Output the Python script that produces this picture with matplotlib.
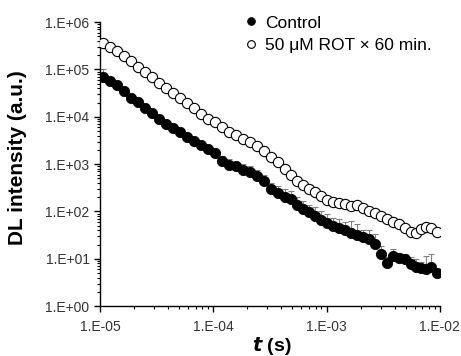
import math
import matplotlib
matplotlib.use("Agg")
import matplotlib.pyplot as plt
from matplotlib.ticker import LogLocator, FuncFormatter, NullFormatter

plt.rcParams["font.family"] = ["Liberation Sans", "DejaVu Sans"]

# time points (s), shared by both series
t = [1.06e-5, 1.23e-5, 1.41e-5, 1.63e-5, 1.88e-5, 2.16e-5, 2.50e-5, 2.88e-5,
     3.32e-5, 3.82e-5, 4.41e-5, 5.08e-5, 5.86e-5, 6.75e-5, 7.78e-5, 8.97e-5,
     1.03e-4, 1.19e-4, 1.37e-4, 1.58e-4, 1.83e-4, 2.11e-4, 2.43e-4, 2.80e-4,
     3.23e-4, 3.72e-4, 4.29e-4, 4.84e-4, 5.47e-4, 6.18e-4, 6.98e-4, 7.89e-4,
     8.91e-4, 1.01e-3, 1.14e-3, 1.28e-3, 1.45e-3, 1.64e-3, 1.85e-3, 2.09e-3,
     2.36e-3, 2.67e-3, 3.02e-3, 3.41e-3, 3.85e-3, 4.35e-3, 4.91e-3, 5.55e-3,
     6.14e-3, 6.80e-3, 7.53e-3, 8.34e-3, 9.41e-3]

# control (filled circles)
control = [6.89e4, 5.68e4, 4.67e4, 3.49e4, 2.48e4, 2.04e4, 1.52e4, 1.20e4,
           8930, 7000, 5770, 4750, 3720, 3060, 2520, 2080,
           1710, 1160, 953, 908, 747, 678, 558, 438,
           297, 244, 201, 182, 136, 112, 97, 80,
           66, 57, 49, 44, 40, 35, 32, 29,
           26, 21, 12.6, 8.1, 11.4, 10.3, 9.8, 7.7,
           6.7, 6.4, 6.2, 6.7, 5.0]
control_err = [34000, 5700, 4700, 3500, 2500, 2000, 1500, 1200,
               900, 700, 600, 500, 400, 300, 300, 300,
               300, 300, 300, 200, 250, 250, 200, 150,
               100, 100, 90, 90, 70, 55, 40, 45,
               35, 30, 25, 25, 20, 28, 22, 12,
               15, 12, 6, 3, 5, 3, 3, 3,
               3, 2, 5.5, 6, 1]

# 50 uM rotenone x 60 min (open circles)
rot = [3.60e5, 2.97e5, 2.44e5, 1.91e5, 1.50e5, 1.12e5, 8.80e4, 6.89e4,
       5.15e4, 4.04e4, 3.16e4, 2.48e4, 1.95e4, 1.52e4, 1.14e4, 8930,
       7720, 6050, 4750, 4100, 3380, 2920, 2400, 1880,
       1410, 1100, 785, 586, 438, 360, 297, 256,
       211, 174, 157, 151, 143, 130, 136, 118,
       102, 92, 80, 69, 60, 54, 44, 37,
       35, 42, 47, 44, 37]
rot_err = [v * 0.1 for v in rot[:49]] + [8, 10, 10, 8]

fig = plt.figure(figsize=(4.61, 3.56), dpi=100)
ax = fig.add_axes([0.217, 0.140, 0.737, 0.798])

ax.errorbar(t, control, yerr=[[0] * len(control), control_err], fmt="none",
            ecolor="#808080", elinewidth=0.8, capsize=2.5, capthick=0.8, zorder=1)
ax.errorbar(t, rot, yerr=[[0] * len(rot), rot_err], fmt="none",
            ecolor="#808080", elinewidth=0.8, capsize=2.5, capthick=0.8, zorder=1)

ax.plot(t, control, "o", color="black", markersize=7.4, markeredgewidth=0.6,
        label="Control", zorder=3)
ax.plot(t, rot, "o", markerfacecolor="white", markeredgecolor="black",
        markersize=7.4, markeredgewidth=0.8,
        label="50 \u03bcM ROT \u00d7 60 min.", zorder=3)

ax.set_xscale("log")
ax.set_yscale("log")
ax.set_xlim(1e-5, 1e-2)
ax.set_ylim(1, 1e6)

ax.xaxis.set_major_locator(LogLocator(base=10, numticks=10))
ax.yaxis.set_major_locator(LogLocator(base=10, numticks=10))
ax.xaxis.set_minor_locator(LogLocator(base=10, subs=range(2, 10), numticks=20))
ax.yaxis.set_minor_locator(LogLocator(base=10, subs=range(2, 10), numticks=20))
ax.xaxis.set_minor_formatter(NullFormatter())
ax.yaxis.set_minor_formatter(NullFormatter())


def sci_label(v, pos):
    e = int(round(math.log10(v)))
    sign = "+" if e >= 0 else "-"
    return "1.E%s%02d" % (sign, abs(e))


ax.xaxis.set_major_formatter(FuncFormatter(sci_label))
ax.yaxis.set_major_formatter(FuncFormatter(sci_label))

for s in ["top", "right"]:
    ax.spines[s].set_visible(False)
for s in ["left", "bottom"]:
    ax.spines[s].set_linewidth(1.0)

ax.tick_params(which="major", direction="out", length=4, width=1.0,
               labelsize=10, labelcolor="#333333")
ax.tick_params(which="minor", direction="out", length=2.5, width=0.8)
ax.tick_params(axis="x", pad=6)

ax.set_xlabel("$\\bfit{t}$ (s)", fontsize=14, fontweight="bold")
ax.xaxis.set_label_coords(0.506, -0.1)
ax.set_ylabel("DL intensity (a.u.)", fontsize=15, fontweight="bold")
ax.yaxis.set_label_coords(-0.215, 0.523)

ax.legend(loc="upper left", bbox_to_anchor=(0.41, 1.048), frameon=False,
          fontsize=12.5, handlelength=0.6, handletextpad=0.5,
          borderaxespad=0, labelspacing=0.45, markerscale=0.75)

fig.savefig("out.png", dpi=100)
